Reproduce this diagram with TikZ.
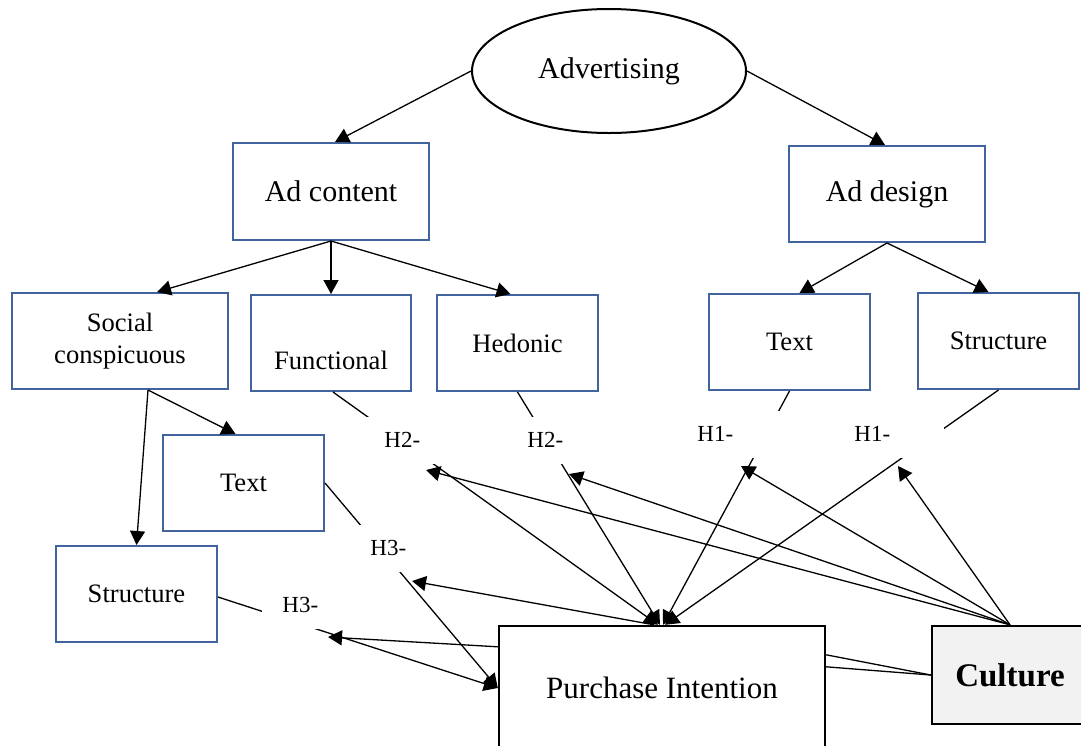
\documentclass[tikz,border=0pt]{standalone}
\usepackage{fontspec}
\setmainfont{Liberation Serif}
\usetikzlibrary{arrows.meta,calc,shapes.geometric}
\definecolor{boxblue}{HTML}{41639E}
\definecolor{culturegray}{HTML}{F2F2F2}
\begin{document}
\begin{tikzpicture}[x=0.5pt,y=-0.5pt,
  bbox/.style={draw=boxblue, line width=1pt, minimum height=48pt, inner sep=0pt, align=center},
  conn/.style={line width=0.65pt},
  arr/.style={conn, -{Triangle[length=7pt,width=7.5pt]}},
  big/.style={font=\fontsize{15}{18}\selectfont},
  mid/.style={font=\fontsize{13.3}{16}\selectfont},
  hyp/.style={fill=white, anchor=west, minimum height=23.5pt, inner xsep=10pt, inner ysep=0pt,
              text width=35pt, align=left, font=\fontsize{11.5}{14}\selectfont}
]
\path[use as bounding box] (0,0) rectangle (1081,745);
\clip (0,0) rectangle (1081,745);

% nodes
\node[ellipse, draw, line width=1pt, minimum width=137pt, minimum height=62pt, inner sep=0pt, big] (adv) at (609,71) {Advertising};
\node[bbox, big, minimum width=98pt, minimum height=48.5pt] (content) at (331,191.5) {Ad content};
\node[bbox, big, minimum width=98pt] (design) at (887,194) {Ad design};
\node[bbox, mid, minimum width=108pt] (social) at (120,341) {Social\\conspicuous};
\node[bbox, minimum width=80pt, label={[mid,yshift=-8.5pt]center:Functional}] (func) at (331,343) {};
\node[bbox, mid, minimum width=80.5pt] (hed) at (517.5,343) {Hedonic};
\node[bbox, mid, minimum width=80.5pt] (textR) at (789.5,342) {Text};
\node[bbox, mid, minimum width=80.5pt] (structR) at (998.5,341) {Structure};
\node[bbox, mid, minimum width=80.5pt] (textL) at (243.5,483) {Text};
\node[bbox, mid, minimum width=80.5pt] (structL) at (136.5,594) {Structure};
\node[draw, line width=1.2pt, minimum width=163pt, minimum height=62pt, inner sep=0pt,
      font=\fontsize{15.5}{18}\selectfont] (pi) at (662,688) {Purchase Intention};
\node[draw, fill=culturegray, line width=1.2pt, minimum width=78pt, minimum height=49pt, inner sep=0pt,
      font=\fontsize{16.5}{19}\selectfont\bfseries] (culture) at (1010,675) {Culture};

% arrow targets near the hypothesis labels
\coordinate (t2a) at (426,470);
\coordinate (t2b) at (569,474);
\coordinate (t1a) at (741,466);
\coordinate (t1b) at (898,466);
\coordinate (t3a) at (412,581);
\coordinate (t3b) at (328,637);

% tree
\draw[arr] (adv.west) -- ($(content.north)+(4,0)$);
\draw[arr] (adv.east) -- ($(design.north)+(-2,0)$);
\draw[arr] (content.south) -- ($(social.north)+(37,0)$);
\draw[arr] (content.south) -- (func.north);
\draw[arr] (content.south) -- ($(hed.north)+(-7,0)$);
\draw[arr] (design.south) -- ($(textR.north)+(10,0)$);
\draw[arr] (design.south) -- ($(structR.north)+(-10,0)$);
\draw[arr] ($(social.south)+(28,0)$) -- ($(textL.north)+(-8,0)$);
\draw[arr] ($(social.south)+(28,0)$) -- (structL.north);

% hypotheses to purchase intention
\draw[arr] ($(func.south)+(2,0)$) -- ($(pi.north)+(-4,0)$);
\draw[arr] (hed.south) -- ($(pi.north)+(-2,0)$);
\draw[arr] (textR.south) -- ($(pi.north)+(1,0)$);
\draw[arr] (structR.south) -- ($(pi.north)+(3,0)$);
\draw[arr] (textL.east) -- (pi.west);
\draw[arr] ($(structL.east)+(0,3)$) -- (pi.west);

% moderation arrows
\draw[arr] (culture.north) -- (t2a);
\draw[arr] (culture.north) -- (t2b);
\draw[arr] (culture.north) -- (t1a);
\draw[arr] (culture.north) -- (t1b);
\draw[arr] ($(pi.north)+(-8,0)$) -- (t3a);
\draw[arr] ($(pi.north west)+(0,22)$) -- (t3b);
\draw[conn] (culture.west) -- ($(pi.north east)+(0,30)$);
\draw[conn] (culture.west) -- ($(pi.north east)+(0,42)$);

% hypothesis labels (white text boxes)
\node[hyp] (h2a) at (364,440) {H2-};
\node[hyp] (h2b) at (507,440) {H2-};
\node[hyp] (h1a) at (677,434) {H1-};
\node[hyp] (h1b) at (834,434) {H1-};
\node[hyp] (h3a) at (350,548) {H3-};
\node[hyp] (h3b) at (262,605) {H3-};
\end{tikzpicture}
\end{document}
